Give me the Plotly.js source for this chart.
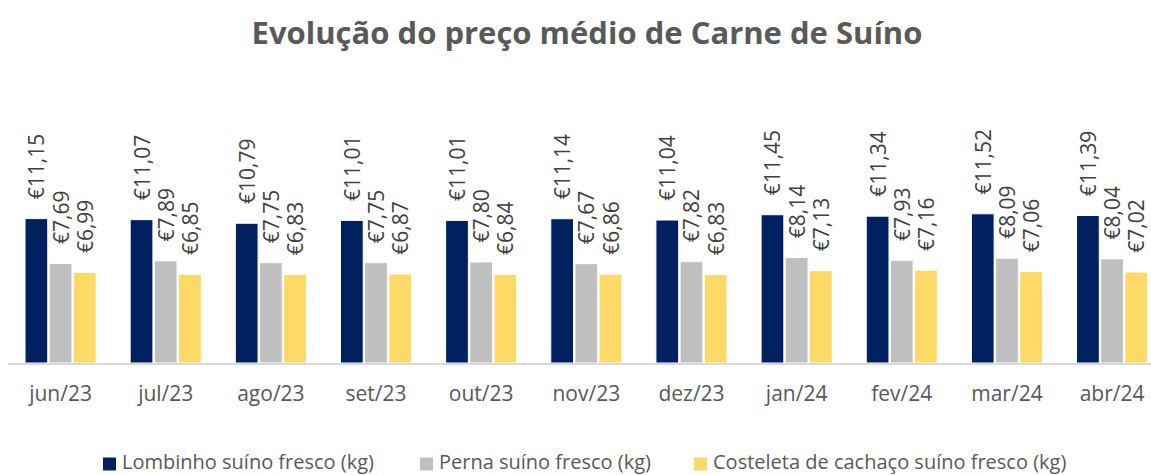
<!DOCTYPE html>
<html><head><meta charset="utf-8">
<script src="https://cdn.plot.ly/plotly-3.0.1.min.js"></script>
<style>body{margin:0;background:#fff}#chart{width:1151px;height:475px}</style>
</head><body><div id="chart"></div>
<script>
const categories = ["jun/23","jul/23","ago/23","set/23","out/23","nov/23","dez/23","jan/24","fev/24","mar/24","abr/24"];
const lombinho = [11.15,11.07,10.79,11.01,11.01,11.14,11.04,11.45,11.34,11.52,11.39];
const perna = [7.69,7.89,7.75,7.75,7.80,7.67,7.82,8.14,7.93,8.09,8.04];
const costeleta = [6.99,6.85,6.83,6.87,6.84,6.86,6.83,7.13,7.16,7.06,7.02];
const seriesNames = ["Lombinho suíno fresco (kg)","Perna suíno fresco (kg)","Costeleta de cachaço suíno fresco (kg)"];
const colors = ["#002060","#BFBFBF","#FFD966"];
const font = "'Open Sans', sans-serif";

const W = 1151, H = 475, M = {l:8, r:0, t:104, b:112};
const pw = W - M.l - M.r, ph = H - M.t - M.b;
const px2x = px => (px - M.l) / pw;
const py2y = py => (H - M.b - py) / ph;

const mk = (y,i) => ({
  type:'bar', x:categories, y:y, name:seriesNames[i],
  marker:{color:colors[i], line:{color:'#ffffff', width:1}},
  texttemplate:'\u00A0\u00A0\u00A0€%{y:.2f}', textposition:'outside', textangle:-90,
  constraintext:'none', cliponaxis:false,
  textfont:{family:font, size:21, color:'#404040'},
  hoverinfo:'skip', showlegend:false
});
const data = [mk(lombinho,0), mk(perna,1), mk(costeleta,2)];

// legend drawn as paper-anchored shapes + annotations (exact placement)
const legendSquares = [103, 420, 694];
const shapes = [], annotations = [];
seriesNames.forEach((n,i) => {
  const x0 = legendSquares[i];
  shapes.push({type:'rect', xref:'paper', yref:'paper', x0:px2x(x0), x1:px2x(x0+13), y0:py2y(470.5), y1:py2y(457.5),
    fillcolor:colors[i], line:{width:0}});
  annotations.push({xref:'paper', yref:'paper', x:px2x(x0+17), y:py2y(461.5), xanchor:'left', yanchor:'middle',
    text:n, showarrow:false, font:{family:font, size:20, color:'#595959'}});
});

const layout = {
  width:W, height:H, margin:M,
  paper_bgcolor:'#fff', plot_bgcolor:'#fff',
  separators:', ',
  title:{text:'<b>Evolução do preço médio de Carne de Suíno</b>', x:0.51, xanchor:'center', y:0.93, yanchor:'middle',
    font:{family:font, size:31, color:'#595959'}},
  barmode:'group', bargap:0.31, bargroupgap:0.06,
  xaxis:{range:[-0.5,10.37], showline:true, linecolor:'#D9D9D9', linewidth:2, ticks:'', automargin:false,
    ticklabelstandoff:11, tickfont:{family:font, size:21, color:'#595959'}, fixedrange:true},
  yaxis:{range:[0,20], visible:false, showgrid:false, zeroline:false, automargin:false},
  showlegend:false,
  shapes:shapes, annotations:annotations
};
Plotly.newPlot('chart', data, layout, {displayModeBar:false, staticPlot:true});
</script></body></html>
